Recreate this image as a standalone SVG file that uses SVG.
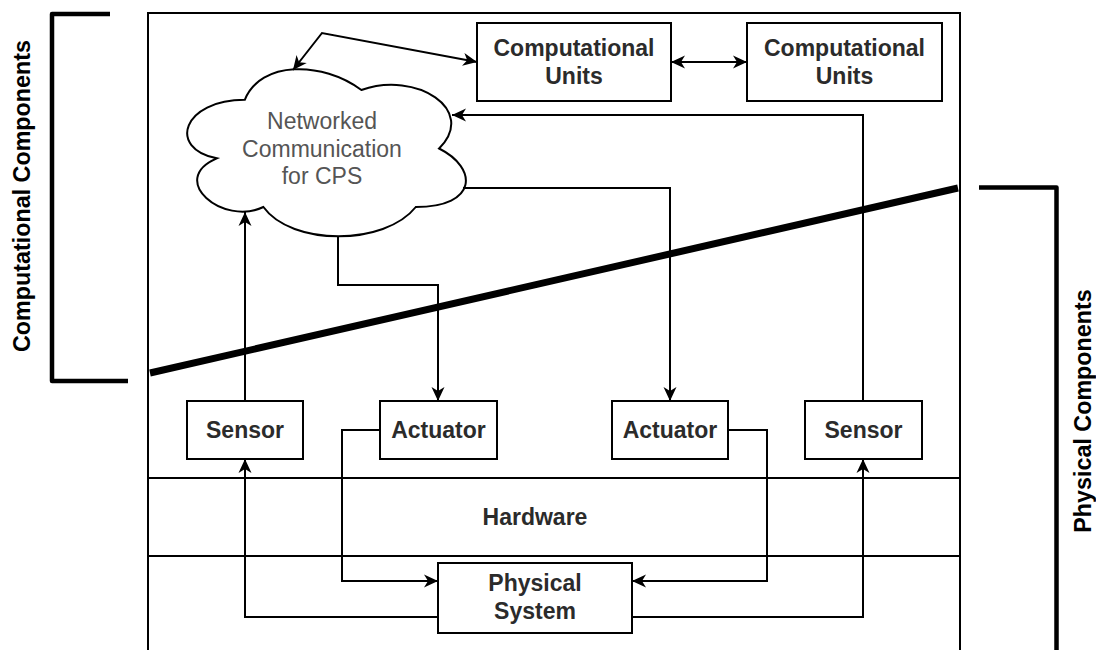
<svg xmlns="http://www.w3.org/2000/svg" width="1096" height="650" viewBox="0 0 1096 650">
<style>
.box{fill:#fff;stroke:#000;stroke-width:2}
.lbl{font-family:"Liberation Sans",Arial,sans-serif;font-size:23px;font-weight:bold;fill:#2b2b2b;text-anchor:middle}
.cl{font-family:"Liberation Sans",Arial,sans-serif;font-size:23px;fill:#555;text-anchor:middle}
.side{font-family:"Liberation Sans",Arial,sans-serif;font-size:23.3px;font-weight:bold;fill:#000;text-anchor:middle}
.edge{fill:none;stroke:#000;stroke-width:2}
.brk{fill:none;stroke:#000;stroke-width:4.5;stroke-linejoin:round}
</style>
<defs>
<marker id="arr" markerUnits="userSpaceOnUse" markerWidth="16" markerHeight="14" viewBox="0 0 16 14" refX="15" refY="7" orient="auto-start-reverse">
<path d="M1,0.5 L15,7 L1,13.5 L5,7 Z" fill="#000"/>
</marker>
</defs>
<g id="frame">
<path d="M148,660 L148,13 L960,13 L960,660" class="edge"/>
<line x1="148" y1="478" x2="960" y2="478" class="edge"/>
<line x1="148" y1="556" x2="960" y2="556" class="edge"/>
</g>
<g id="divider">
<line x1="150" y1="373" x2="958" y2="188" stroke="#000" stroke-width="7"/>
</g>
<g id="bracket-left">
<path d="M110,14 L52,14 L52,381 L128,381" class="brk"/>
<text class="side" transform="translate(30,196) rotate(-90)">Computational Components</text>
</g>
<g id="bracket-right">
<path d="M979,187.5 L1056.5,187.5 L1056.5,660" class="brk"/>
<text class="side" transform="translate(1091,411) rotate(-90)">Physical Components</text>
</g>
<g id="hardware">
<text class="lbl" x="535" y="525">Hardware</text>
</g>
<g id="cloud">
<path class="box" d="M244.8,99.8 C182.6,99.8 167,148.5 216.8,158.3 C167,179.7 223,226.5 263.4,207 C291.4,246 384.7,246 415.8,207 C478,207 478,168 439.1,148.5 C478,109.5 415.8,70.5 361.4,90 C322.5,60.8 260.3,60.8 244.8,99.8 Z"/>
<text class="cl" x="322" y="129">Networked</text>
<text class="cl" x="322" y="157">Communication</text>
<text class="cl" x="322" y="184">for CPS</text>
</g>
<g id="cu1">
<rect class="box" x="477" y="23" width="194" height="78"/>
<text class="lbl" x="574" y="56">Computational</text>
<text class="lbl" x="574" y="84">Units</text>
</g>
<g id="cu2">
<rect class="box" x="747" y="23" width="195" height="78"/>
<text class="lbl" x="844.5" y="56">Computational</text>
<text class="lbl" x="844.5" y="84">Units</text>
</g>
<g id="sensor1">
<rect class="box" x="187" y="401" width="116" height="58"/>
<text class="lbl" x="245" y="438">Sensor</text>
</g>
<g id="actuator1">
<rect class="box" x="380" y="401" width="117" height="58"/>
<text class="lbl" x="438.5" y="438">Actuator</text>
</g>
<g id="actuator2">
<rect class="box" x="612" y="401" width="116" height="58"/>
<text class="lbl" x="670" y="438">Actuator</text>
</g>
<g id="sensor2">
<rect class="box" x="805" y="401" width="117" height="58"/>
<text class="lbl" x="863.5" y="438">Sensor</text>
</g>
<g id="physical">
<rect class="box" x="438" y="563" width="194" height="70"/>
<text class="lbl" x="535" y="591">Physical</text>
<text class="lbl" x="535" y="619">System</text>
</g>
<g id="connectors">
<path class="edge" d="M293,70 L322,33 L477,62" marker-start="url(#arr)" marker-end="url(#arr)"/>
<path class="edge" d="M671,62 L747,62" marker-start="url(#arr)" marker-end="url(#arr)"/>
<path class="edge" d="M863,401 L863,115 L452,115" marker-end="url(#arr)"/>
<path class="edge" d="M245,401 L245,212" marker-end="url(#arr)"/>
<path class="edge" d="M338,237 L338,285 L438,285 L438,401" marker-end="url(#arr)"/>
<path class="edge" d="M463,188 L670,188 L670,401" marker-end="url(#arr)"/>
<path class="edge" d="M380,430 L342,430 L342,581 L438,581" marker-end="url(#arr)"/>
<path class="edge" d="M728,430 L767,430 L767,581 L632,581" marker-end="url(#arr)"/>
<path class="edge" d="M438,617 L245,617 L245,459" marker-end="url(#arr)"/>
<path class="edge" d="M632,617 L863,617 L863,459" marker-end="url(#arr)"/>
</g>
</svg>
